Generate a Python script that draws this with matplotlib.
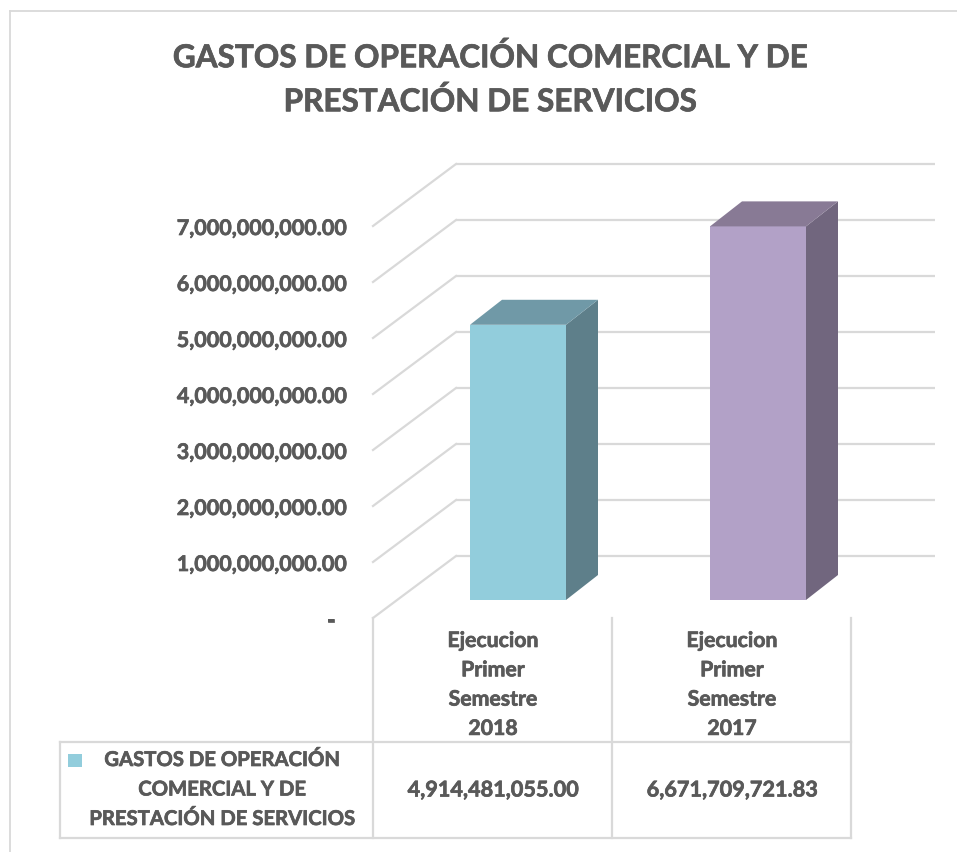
import matplotlib
matplotlib.use("Agg")
import matplotlib.pyplot as plt
import matplotlib.patheffects as pe
from matplotlib.patches import Polygon

plt.rcParams['font.family'] = ['Lato', 'DejaVu Sans']

# Data
categories = ['Ejecucion\nPrimer\nSemestre\n2018', 'Ejecucion\nPrimer\nSemestre\n2017']
values = [4914481055.00, 6671709721.83]
value_labels = ['4,914,481,055.00', '6,671,709,721.83']
series_name = 'GASTOS DE OPERACIÓN\nCOMERCIAL Y DE\nPRESTACIÓN DE SERVICIOS'
title = 'GASTOS DE OPERACIÓN COMERCIAL Y DE\nPRESTACIÓN DE SERVICIOS'
y_ticks = [0, 1e9, 2e9, 3e9, 4e9, 5e9, 6e9, 7e9]
y_labels = ['-', '1,000,000,000.00', '2,000,000,000.00', '3,000,000,000.00',
            '4,000,000,000.00', '5,000,000,000.00', '6,000,000,000.00', '7,000,000,000.00']

W, H = 957, 852
TEXT = '#595959'
GRID = '#D9D9D9'
front_cols = ['#92CDDC', '#B2A1C7']
side_cols = ['#5E7F8A', '#71667E']
top_cols = ['#7099A7', '#887A95']

# Lato bold is a bit lighter than the original face, thicken it slightly
heavy = [pe.withStroke(linewidth=0.5, foreground=TEXT)]

fig = plt.figure(figsize=(W / 100, H / 100), dpi=100)

# overlay in pixel coordinates for the frame and the data table
bg = fig.add_axes([0, 0, 1, 1])
bg.set_xlim(0, W)
bg.set_ylim(H, 0)
bg.axis('off')

# bar plane: one category is 240 px wide, 1e9 is 56 px tall
left, right, base, top = 374, 935, 600, 208
ax = fig.add_axes([left / W, 1 - base / H, (right - left) / W, (base - top) / H])
ax.set_xlim((left - 398) / 240, (right - 398) / 240)
ax.set_ylim(0, 7e9)
ax.axis('off')
px = 1 / 240
py = 1e9 / 56

# gridlines on the wall and on the side
wall_x = (456 - 398) / 240
end_x = (right - 398) / 240
front_x = (373 - 398) / 240
for v in y_ticks:
    ax.plot([wall_x, end_x], [v + 44 * py] * 2, color=GRID, lw=1.6, clip_on=False, zorder=1,
            solid_capstyle='butt')
    ax.plot([front_x, wall_x], [v - 18 * py, v + 44 * py], color=GRID, lw=1.6, clip_on=False, zorder=1)

# bars with side and top faces
xs = [0.5, 1.5]
bw = 96 * px
dx, dy = 32 * px, 25 * py
for x, v, fc, sc, tc in zip(xs, values, front_cols, side_cols, top_cols):
    ax.bar(x, v, width=bw, color=fc, zorder=3, clip_on=False)
    x1 = x + bw / 2
    x0 = x - bw / 2
    ax.add_patch(Polygon([(x1, 0), (x1 + dx, dy), (x1 + dx, v + dy), (x1, v)],
                         color=sc, lw=0, zorder=3, clip_on=False))
    ax.add_patch(Polygon([(x0, v), (x1, v), (x1 + dx, v + dy), (x0 + dx, v + dy)],
                         color=tc, lw=0, zorder=3, clip_on=False))

# value axis labels sit on the front edge, the dash stands a bit further left
for v, lab in zip(y_ticks, y_labels):
    label_x = 335 if lab == '-' else 345
    ax.text((label_x - 398) / 240, v - 20.5 * py, lab, ha='right', va='center',
            fontsize=15.5, fontweight='bold', color=TEXT, clip_on=False, path_effects=heavy)

# outer frame
bg.plot([10, 10], [852, 11], color=GRID, lw=1.3)
bg.plot([10, 957], [11, 11], color=GRID, lw=1.3)

# data table
for xv in (373, 612, 851):
    bg.plot([xv, xv], [618, 838], color=GRID, lw=1.6, zorder=1)
bg.plot([60, 60], [742, 838], color=GRID, lw=1.6)
bg.plot([60, 851], [742, 742], color=GRID, lw=1.6)
bg.plot([60, 851], [838, 838], color=GRID, lw=1.6)

for cx, cat, lab in zip((493, 732), categories, value_labels):
    for i, line in enumerate(cat.split('\n')):
        bg.text(cx, 641 + i * 29.3, line, ha='center', va='center',
                fontsize=15.3, fontweight='bold', color=TEXT, path_effects=heavy)
    bg.text(cx, 790, lab, ha='center', va='center', fontsize=15.6, fontweight='bold',
            color=TEXT, path_effects=heavy)

# legend key and series name
bg.add_patch(plt.Rectangle((68, 754), 14, 13, color=front_cols[0], lw=0))
for i, line in enumerate(series_name.split('\n')):
    bg.text(222, 760 + i * 29.5, line, ha='center', va='center',
            fontsize=14.6, fontweight='bold', color=TEXT, path_effects=heavy)

# title
for i, line in enumerate(title.split('\n')):
    bg.text(490, 57 + i * 44, line, ha='center', va='center',
            fontsize=22.7, fontweight='bold', color=TEXT, path_effects=heavy)

fig.savefig('out.png', dpi=100)
